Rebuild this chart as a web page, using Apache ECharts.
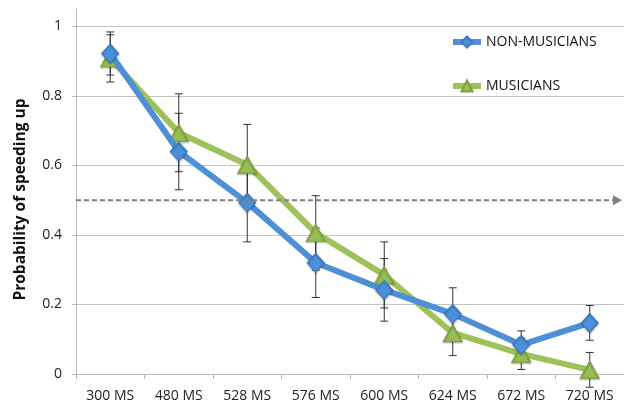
<!DOCTYPE html>
<html>
<head>
<meta charset="utf-8">
<script src="https://cdn.jsdelivr.net/npm/echarts@6/dist/echarts.min.js"></script>
<style>
html,body{margin:0;padding:0;background:#fff;}
#chart{width:624px;height:405px;}
</style>
</head>
<body>
<div id="chart"></div>
<script>
var categories = ['300 MS','480 MS','528 MS','576 MS','600 MS','624 MS','672 MS','720 MS'];
var nonMusicians = [0.922, 0.640, 0.493, 0.320, 0.242, 0.173, 0.084, 0.147];
var nonMusiciansErr = [0.062, 0.110, 0.113, 0.100, 0.090, 0.075, 0.040, 0.050];
var musicians = [0.908, 0.694, 0.602, 0.406, 0.285, 0.118, 0.058, 0.012];
var musiciansErr = [0.068, 0.112, 0.116, 0.107, 0.095, 0.065, 0.045, 0.050];
var yTicks = [0, 0.2, 0.4, 0.6, 0.8, 1];
var threshold = 0.5;

var FONT = '"Open Sans", "Liberation Sans", sans-serif';

function errData(vals, errs) {
  return vals.map(function (v, i) { return [i, v - errs[i], v + errs[i]]; });
}

function renderErr(params, api) {
  var lo = api.coord([api.value(0), api.value(1)]);
  var hi = api.coord([api.value(0), api.value(2)]);
  var x = lo[0];
  var cap = 4;
  var style = { stroke: '#333', lineWidth: 1 };
  return {
    type: 'group',
    children: [
      { type: 'line', shape: { x1: x, y1: hi[1], x2: x, y2: lo[1] }, style: style },
      { type: 'line', shape: { x1: x - cap, y1: hi[1], x2: x + cap, y2: hi[1] }, style: style },
      { type: 'line', shape: { x1: x - cap, y1: lo[1], x2: x + cap, y2: lo[1] }, style: style }
    ]
  };
}

var chart = echarts.init(document.getElementById('chart'), null, { renderer: 'canvas' });

var GRID_LEFT = 76, GRID_TOP = 9, GRID_W = 560, GRID_H = 365;

chart.setOption({
  animation: false,
  backgroundColor: '#fff',
  textStyle: { fontFamily: FONT },
  grid: { left: GRID_LEFT, top: GRID_TOP, width: GRID_W, height: GRID_H, containLabel: false },
  legend: {
    orient: 'vertical',
    left: 445,
    top: 30,
    itemWidth: 28,
    itemHeight: 14,
    itemGap: 30,
    data: ['NON-MUSICIANS', 'MUSICIANS'],
    lineStyle: { width: 6 },
    textStyle: { fontFamily: FONT, fontSize: 14, color: '#111' }
  },
  xAxis: {
    type: 'category',
    data: categories,
    boundaryGap: true,
    axisLine: { lineStyle: { color: '#b8b8b8', width: 1 } },
    axisTick: { show: true, length: 5, lineStyle: { color: '#b8b8b8' } },
    axisLabel: { fontFamily: FONT, fontSize: 14, color: '#222', margin: 15 },
    splitLine: { show: false }
  },
  yAxis: {
    type: 'value',
    min: 0,
    max: 1.05,
    interval: 0.2,
    name: 'Probability of speeding up',
    nameLocation: 'middle',
    nameGap: 47,
    nameTextStyle: { fontFamily: FONT, fontSize: 15.5, fontWeight: 'bold', color: '#111', padding: [0, 16, 0, 0] },
    axisLine: { show: true, lineStyle: { color: '#b8b8b8', width: 1 } },
    axisTick: { show: true, length: 4, lineStyle: { color: '#b8b8b8' } },
    axisLabel: {
      fontFamily: FONT, fontSize: 14, color: '#222', margin: 14,
      showMaxLabel: false,
      formatter: function (v) {
        for (var i = 0; i < yTicks.length; i++) {
          if (Math.abs(yTicks[i] - v) < 1e-9) return String(yTicks[i]);
        }
        return '';
      }
    },
    splitLine: { show: true, showMaxLine: false, lineStyle: { color: '#c4c4c4', width: 1 } }
  },
  series: [
    {
      name: 'NON-MUSICIANS err',
      type: 'custom',
      clip: false,
      z: 1,
      silent: true,
      renderItem: renderErr,
      data: errData(nonMusicians, nonMusiciansErr)
    },
    {
      name: 'MUSICIANS err',
      type: 'custom',
      clip: false,
      z: 1,
      silent: true,
      renderItem: renderErr,
      data: errData(musicians, musiciansErr)
    },
    {
      name: 'NON-MUSICIANS',
      type: 'line',
      z: 3,
      data: nonMusicians,
      symbol: 'diamond',
      symbolSize: [17, 19],
      lineStyle: { color: '#4f8fd5', width: 6 },
      itemStyle: { color: '#4a90da', borderColor: '#3b7cc2', borderWidth: 1, shadowBlur: 2, shadowColor: 'rgba(0,0,0,0.3)', shadowOffsetY: 1 }
    },
    {
      name: 'MUSICIANS',
      type: 'line',
      z: 2,
      data: musicians,
      symbol: 'triangle',
      symbolSize: [19, 17],
      lineStyle: { color: '#9dc25a', width: 6 },
      itemStyle: { color: '#98bd55', borderColor: '#7e9f40', borderWidth: 1, shadowBlur: 2, shadowColor: 'rgba(0,0,0,0.3)', shadowOffsetY: 1 }
    }
  ]
});

var ty = chart.convertToPixel({ yAxisIndex: 0 }, threshold);
chart.setOption({
  graphic: [
    {
      type: 'line',
      z: 5,
      shape: { x1: GRID_LEFT, y1: ty, x2: 614, y2: ty },
      style: { stroke: '#808080', lineWidth: 2, lineDash: [5, 3] }
    },
    {
      type: 'polygon',
      z: 5,
      shape: { points: [[613, ty - 5], [622, ty], [613, ty + 5]] },
      style: { fill: '#808080' }
    }
  ]
});
</script>
</body>
</html>
